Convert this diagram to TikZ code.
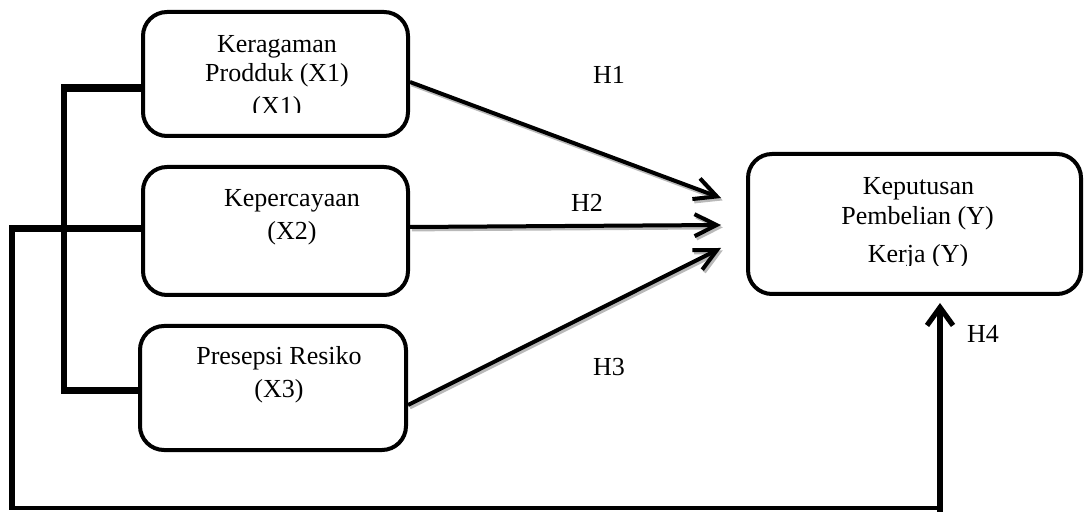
\documentclass[tikz,border=0pt]{standalone}
\usepackage{fontspec}
\setmainfont{Liberation Serif}
\usetikzlibrary{arrows.meta}
\begin{document}
\begin{tikzpicture}[x=0.5pt,y=-0.5pt,
  box/.style={draw,line width=2pt,rounded corners=12pt,inner sep=0pt},
  txt/.style={anchor=base,inner sep=0pt,font=\fontsize{13}{15}\selectfont},
  arr/.style={line width=2pt,-{Straight Barb[length=11pt,width=11pt]}},
  shadowarr/.style={draw=gray!55,line width=2pt,-{Straight Barb[length=11pt,width=11pt]}},
  thick1/.style={line width=4pt},
  thick2/.style={line width=2.6pt},
]
\useasboundingbox (0,0) rectangle (1085,512);
% boxes
\node[box,minimum width=132.5pt,minimum height=62pt] (x1) at (275.5,74) {};
\node[box,minimum width=132.5pt,minimum height=64pt] (x2) at (275.5,231) {};
\node[box,minimum width=133pt,minimum height=62pt] (x3) at (273,388) {};
\node[box,minimum width=166.5pt,minimum height=70pt] (y) at (914.5,224) {};
% texts
\node[txt] (t1a) at (277,53) {Keragaman};
\node[txt] (t1b) at (277,82) {Prodduk (X1)};
\begin{scope}
\clip (150,90) rectangle (400,113);
\node[txt] (t1c) at (277,115) {(X1)};
\end{scope}
\node[txt] (t2a) at (292,207) {Kepercayaan};
\node[txt] (t2b) at (292,240) {(X2)};
\node[txt] (t3a) at (279,365) {Presepsi Resiko};
\node[txt] (t3b) at (279,398) {(X3)};
\node[txt] (tya) at (918.5,195) {Keputusan};
\node[txt] (tyb) at (917.5,225) {Pembelian (Y)};
\begin{scope}
\clip (760,235) rectangle (1070,266);
\node[txt] (tyc) at (918,263) {Kerja (Y)};
\end{scope}
\node[txt] (h1) at (609,84) {H1};
\node[txt] (h2) at (587,212) {H2};
\node[txt] (h3) at (609,376) {H3};
\node[txt] (h4) at (983,343) {H4};
% coordinates
\coordinate (e1) at ([xshift=-12.5pt,yshift=13pt]y.west);
\coordinate (e2) at ([xshift=-12.5pt,yshift=-0.5pt]y.west);
\coordinate (e3) at ([xshift=-12.5pt,yshift=-12pt]y.west);
\coordinate (s1) at ([yshift=-4pt]x1.east);
\coordinate (s2) at ([yshift=2pt]x2.east);
\coordinate (s3) at ([yshift=-8.5pt]x3.east);
\coordinate (lx1) at (64,88);
\coordinate (lx3) at (64,391);
\coordinate (lx2) at (12,229);
\coordinate (lb) at (12,508);
\coordinate (rb) at (940,508);
\coordinate (h4s) at (940,512);
\coordinate (h4e) at (940,303);
% arrow shadows
\draw[shadowarr] ([shift={(0.9pt,-1.2pt)}]s1) -- ([shift={(0.9pt,-1.2pt)}]e1);
\draw[shadowarr] ([shift={(0.9pt,-1.2pt)}]s2) -- ([shift={(0.9pt,-1.2pt)}]e2);
\draw[shadowarr] ([shift={(0.9pt,-1.2pt)}]s3) -- ([shift={(0.9pt,-1.2pt)}]e3);
% arrows
\draw[arr] (s1) -- (e1);
\draw[arr] (s2) -- (e2);
\draw[arr] (s3) -- (e3);
% left brackets
\draw[thick1] ([yshift=-7pt,xshift=2pt]x1.west) -- ([xshift=-1.3pt]lx1);
\draw[thick2] ([yshift=1.3pt]lx1) -- ([yshift=-1.6pt]lx3);
\draw[line width=3.5pt] ([xshift=-1.3pt]lx3) -- ([yshift=-1.5pt]x3.west);
\draw[line width=3.5pt] (x2.west |- lx2) -- ([xshift=-1.3pt]lx2);
\draw[thick2] ([yshift=1.6pt]lx2) -- ([yshift=-0.6pt]lb);
\draw[line width=1.6pt] ([xshift=-1.3pt]lb) -- (rb);
\draw[line width=2.6pt,-{Straight Barb[length=9pt,width=13pt]}] (h4s) -- (h4e);
\end{tikzpicture}
\end{document}
